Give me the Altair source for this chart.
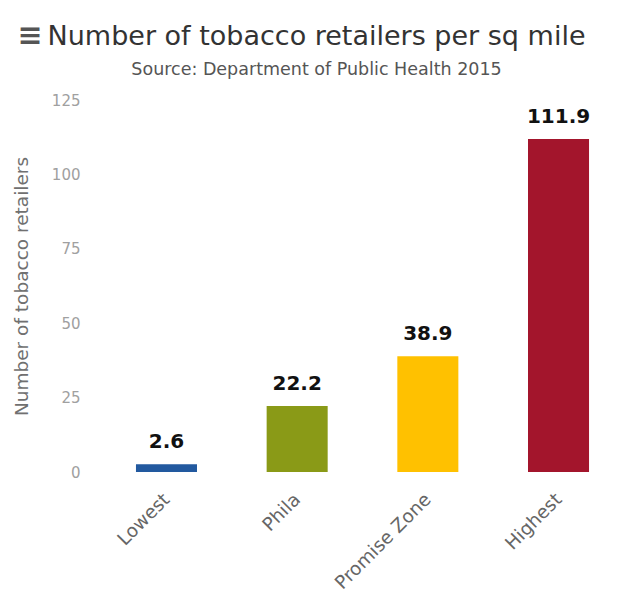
import altair as alt
import pandas as pd

categories = ["Lowest", "Phila", "Promise Zone", "Highest"]
values = [2.6, 22.2, 38.9, 111.9]
colors = ["#22599f", "#8a9a17", "#ffc100", "#a3152c"]
y_ticks = [0, 25, 50, 75, 100, 125]

df = pd.DataFrame({"category": categories, "value": values, "color": colors})

FONT = "DejaVu Sans"

x_enc = alt.X(
    "category:N",
    sort=categories,
    title=None,
    scale=alt.Scale(paddingInner=0.533, paddingOuter=0.214),
    axis=alt.Axis(
        labelAngle=-45,
        labelAlign="right",
        labelBaseline="middle",
        labelFont=FONT,
        labelFontSize=18.5,
        labelColor="#666666",
        labelPadding=24,
        ticks=False,
        domain=False,
    ),
)
y_enc = alt.Y(
    "value:Q",
    scale=alt.Scale(domain=[0, 125], nice=False),
    axis=alt.Axis(
        values=y_ticks,
        title="Number of tobacco retailers",
        titleFont=FONT,
        titleFontSize=18.5,
        titleFontWeight="normal",
        titleColor="#707070",
        titlePadding=20,
        labelFont=FONT,
        labelFontSize=15,
        labelColor="#a0a0a0",
        labelPadding=28,
        ticks=False,
        domain=False,
        grid=False,
    ),
)

bars = alt.Chart(df).mark_bar().encode(
    x=x_enc,
    y=y_enc,
    color=alt.Color("color:N", scale=None),
)

labels = alt.Chart(df).mark_text(
    font=FONT, fontSize=20, fontWeight="bold", color="#111111",
    baseline="bottom", dy=-12,
).encode(
    x=alt.X("category:N", sort=categories),
    y="value:Q",
    text=alt.Text("value:Q", format=".1f"),
)

icon = alt.Chart(pd.DataFrame({"icon": ["≡"]})).mark_text(
    font=FONT, fontSize=30, color="#555555", fontWeight="bold"
).encode(
    text="icon:N",
    x=alt.value(-78),
    y=alt.value(-64),
)

chart = alt.layer(bars, labels, icon).properties(
    width=509,
    height=372,
    title=alt.TitleParams(
        text="Number of tobacco retailers per sq mile",
        subtitle="Source: Department of Public Health 2015",
        anchor="middle",
        font=FONT,
        fontSize=27,
        fontWeight="normal",
        color="#333333",
        subtitleFont=FONT,
        subtitleFontSize=17.5,
        subtitleColor="#555555",
        subtitlePadding=10,
        offset=-58,
        dx=-46,
    ),
    autosize=alt.AutoSizeParams(type="none"),
    padding={"left": 100, "top": 92, "right": 0, "bottom": 120},
).configure(background="white", view=alt.ViewConfig(stroke=None))

chart.save("out.html", embed_options={"renderer": "svg", "actions": False})
